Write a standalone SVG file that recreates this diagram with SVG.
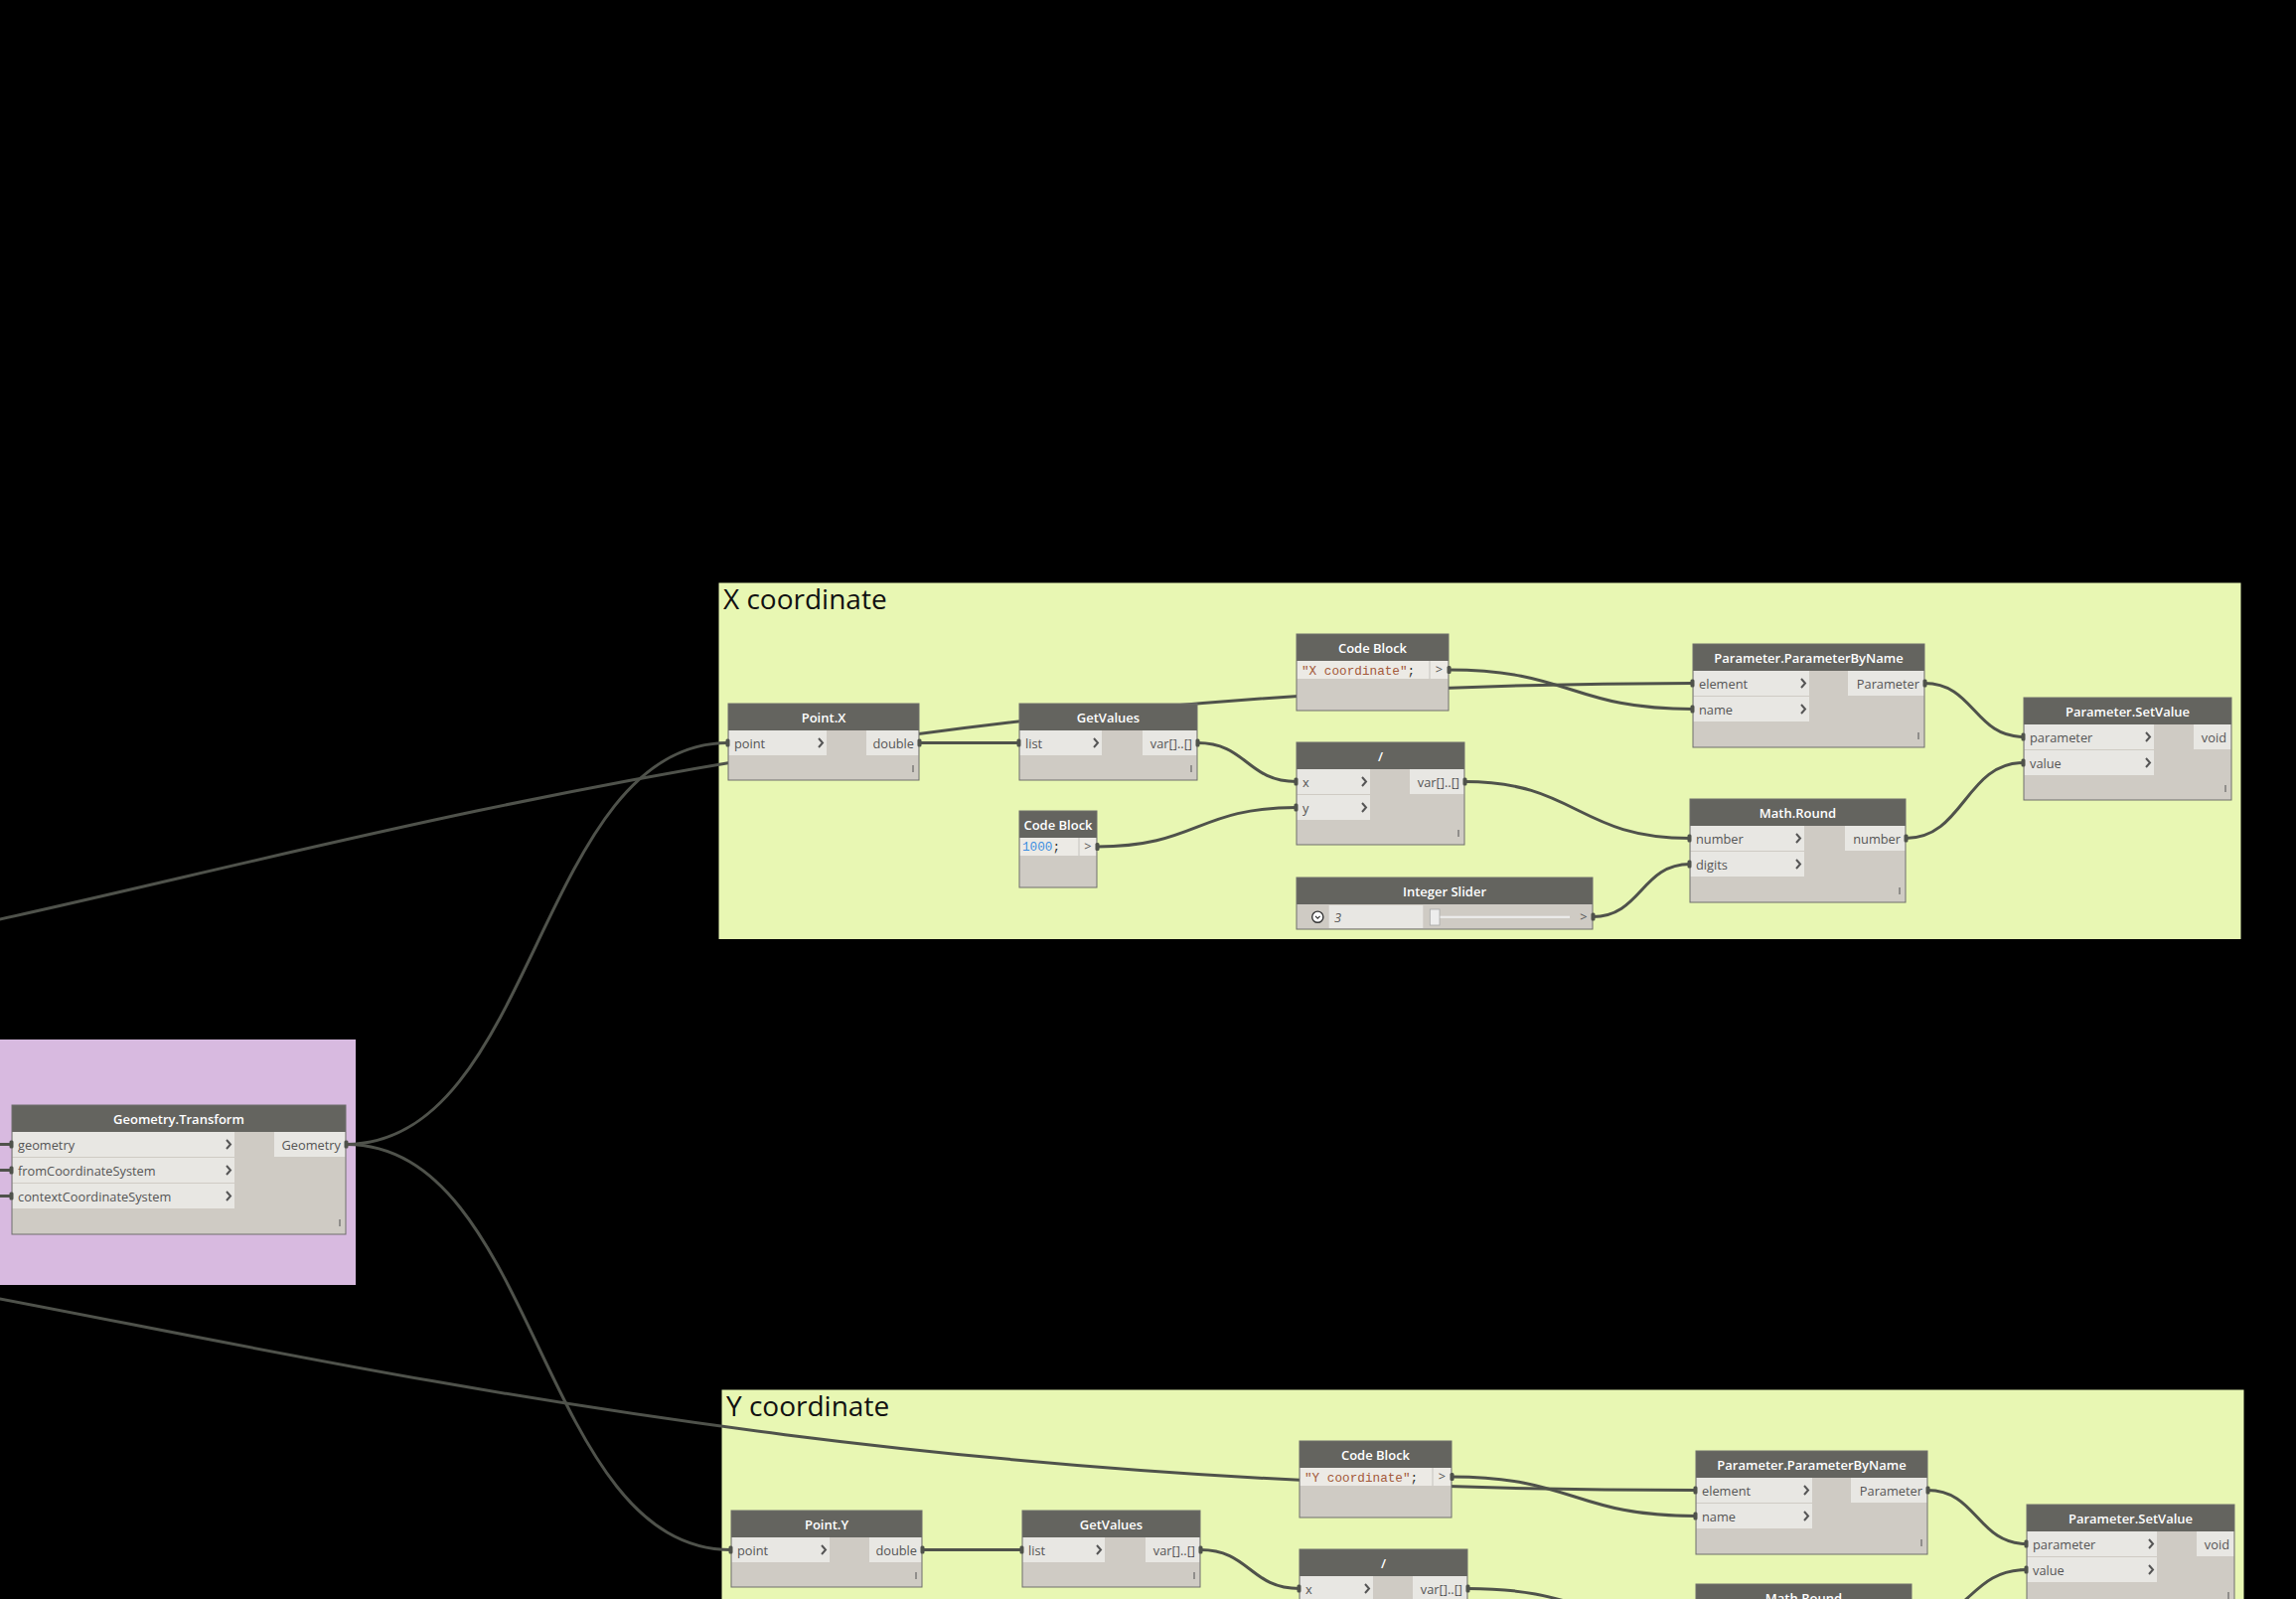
<svg xmlns="http://www.w3.org/2000/svg" width="2311" height="1609" viewBox="0 0 2311 1609">
<style>
.bg{fill:#000}
.gy{fill:#e8f7b3}
.gp{fill:#d8bae0}
.gt{font-family:'Open Sans','Liberation Sans',sans-serif;font-size:28px;fill:#111}
.bd{fill:#cfcbc4}
.hd{fill:#64645f}
.ol{fill:none;stroke:#6e6e6c;stroke-width:1}
.pb{fill:#e8e7e3}
.ht{font-family:'Open Sans','Liberation Sans',sans-serif;font-size:13px;font-weight:600;fill:#fff;text-anchor:middle}
.pt{font-family:'Open Sans','Liberation Sans',sans-serif;font-size:12.8px;fill:#555}
.po{text-anchor:end}
.ch{fill:none;stroke:#555;stroke-width:2}
.tk{stroke:#666;stroke-width:1.2}
.mk{fill:#4f524b}
.wire{fill:none;stroke:#4f524b;stroke-width:3}
.cd{font-family:'Liberation Mono','DejaVu Sans Mono',monospace;font-size:12.7px}
.str{fill:#a3593a}
.num{fill:#3d8fe0}
.pun{fill:#333}
.cr{fill:#eceae5}
.sep{stroke:#c4c2bd;stroke-width:1}
</style>
<rect class="bg" x="0" y="0" width="2311" height="1609"/>

<g id="groups">
  <g id="group-transform"><rect class="gp" x="-1" y="1046" width="359" height="247"/></g>
  <g id="group-x"><rect class="gy" x="723.5" y="586.5" width="1532" height="358.5"/><text class="gt" x="728" y="613">X coordinate</text></g>
  <g id="group-y"><rect class="gy" x="726.5" y="1398.5" width="1532" height="215"/><text class="gt" x="731" y="1425">Y coordinate</text></g>
</g>

<g id="connectors">
  <path class="wire" d="M-6,1151.5 L12,1151.5"/>
  <path class="wire" d="M-6,1177.5 L12,1177.5"/>
  <path class="wire" d="M-6,1203.5 L12,1203.5"/>
  <path class="wire" d="M348,1151.5 C540,1151.5 541,747.5 733,747.5"/>
  <path class="wire" d="M348,1151.5 C542,1151.5 542,1559.5 736,1559.5"/>
  <path class="wire" d="M-2,925.4 C400,837 900,687.5 1704,687.5"/>
  <path class="wire" d="M-2,1306.6 C400,1383 900,1499.5 1707,1499.5"/>
  <path class="wire" d="M925,747.5 L1026,747.5"/>
  <path class="wire" d="M1205,747.5 C1255,747.5 1255,786.5 1305,786.5"/>
  <path class="wire" d="M1104,852 C1205,852 1205,812.5 1305,812.5"/>
  <path class="wire" d="M1458,674 C1581,674 1581,713.5 1704,713.5"/>
  <path class="wire" d="M1937,687.5 C1987,687.5 1987,741.5 2037,741.5"/>
  <path class="wire" d="M1474,786.5 C1587,786.5 1588,843.5 1701,843.5"/>
  <path class="wire" d="M1603,922.5 C1652,922.5 1652,869.5 1701,869.5"/>
  <path class="wire" d="M1918,843.5 C1977,843.5 1978,767.5 2037,767.5"/>
  <path class="wire" d="M928,1559.5 L1029,1559.5"/>
  <path class="wire" d="M1208,1559.5 C1258,1559.5 1258,1598.5 1308,1598.5"/>
  <path class="wire" d="M1461,1486 C1584,1486 1584,1525.5 1707,1525.5"/>
  <path class="wire" d="M1940,1499.5 C1990,1499.5 1990,1553.5 2040,1553.5"/>
  <path class="wire" d="M1477,1598.5 C1592,1598.5 1592,1633.5 1707,1633.5"/>
  <path class="wire" d="M1924,1633.5 C1982,1633.5 1982,1579.5 2040,1579.5"/>
</g>

<g id="geometry-transform" transform="translate(12,1112)">
  <rect class="bd" width="336" height="130"/>
  <rect class="hd" width="336" height="27"/>
  <text class="ht" x="168" y="19">Geometry.Transform</text>
  <rect class="pb" x="0.5" y="27" width="223.5" height="25"/>
  <rect class="pb" x="0.5" y="53" width="223.5" height="25"/>
  <rect class="pb" x="0.5" y="79" width="223.5" height="25"/>
  <text class="pt" x="6" y="44.5">geometry</text>
  <text class="pt" x="6" y="70.5">fromCoordinateSystem</text>
  <text class="pt" x="6" y="96.5">contextCoordinateSystem</text>
  <path class="ch" d="M216,35 L220,39.5 L216,44 M216,61 L220,65.5 L216,70 M216,87 L220,91.5 L216,96"/>
  <rect class="pb" x="264" y="27" width="71.5" height="25"/>
  <text class="pt po" x="331" y="44.5">Geometry</text>
  <path class="tk" d="M330,115 V122"/>
  <rect class="ol" width="336" height="130"/>
  <rect class="mk" x="-2.5" y="35.5" width="4" height="8" rx="1.5"/>
  <rect class="mk" x="-2.5" y="61.5" width="4" height="8" rx="1.5"/>
  <rect class="mk" x="-2.5" y="87.5" width="4" height="8" rx="1.5"/>
  <rect class="mk" x="334.5" y="35.5" width="4" height="8" rx="1.5"/>
</g>

<g id="point-x" transform="translate(733,708)">
  <rect class="bd" width="192" height="77"/>
  <rect class="hd" width="192" height="27"/>
  <text class="ht" x="96" y="19">Point.X</text>
  <rect class="pb" x="0.5" y="27" width="98.5" height="25"/>
  <text class="pt" x="6" y="44.5">point</text>
  <path class="ch" d="M91,35 L95,39.5 L91,44"/>
  <rect class="pb" x="139" y="27" width="52.5" height="25"/>
  <text class="pt po" x="187" y="44.5">double</text>
  <path class="tk" d="M186,62 V69"/>
  <rect class="ol" width="192" height="77"/>
  <rect class="mk" x="-2.5" y="35.5" width="4" height="8" rx="1.5"/>
  <rect class="mk" x="190.5" y="35.5" width="4" height="8" rx="1.5"/>
</g>

<g id="getvalues-x" transform="translate(1026,708)">
  <rect class="bd" width="179" height="77"/>
  <rect class="hd" width="179" height="27"/>
  <text class="ht" x="89.5" y="19">GetValues</text>
  <rect class="pb" x="0.5" y="27" width="82.5" height="25"/>
  <text class="pt" x="6" y="44.5">list</text>
  <path class="ch" d="M75,35 L79,39.5 L75,44"/>
  <rect class="pb" x="124" y="27" width="54.5" height="25"/>
  <text class="pt po" x="174" y="44.5">var[]..[]</text>
  <path class="tk" d="M173,62 V69"/>
  <rect class="ol" width="179" height="77"/>
  <rect class="mk" x="-2.5" y="35.5" width="4" height="8" rx="1.5"/>
  <rect class="mk" x="177.5" y="35.5" width="4" height="8" rx="1.5"/>
</g>

<g id="codeblock-x-name" transform="translate(1305,638)">
  <rect class="bd" width="153" height="77"/>
  <rect class="hd" width="153" height="27"/>
  <text class="ht" x="76.5" y="19">Code Block</text>
  <rect class="cr" x="0.5" y="27" width="152" height="18"/>
  <path class="sep" d="M134,27 V45"/>
  <text class="cd" x="5" y="40.5"><tspan class="str">"X coordinate"</tspan><tspan class="pun">;</tspan></text>
  <text class="pt" x="143.5" y="40" text-anchor="middle">&gt;</text>
  <rect class="ol" width="153" height="77"/>
  <rect class="mk" x="151.5" y="32" width="4" height="8" rx="1.5"/>
</g>

<g id="divide-x" transform="translate(1305,747)">
  <rect class="bd" width="169" height="103"/>
  <rect class="hd" width="169" height="27"/>
  <text class="ht" x="84.5" y="19">/</text>
  <rect class="pb" x="0.5" y="27" width="73.5" height="25"/>
  <rect class="pb" x="0.5" y="53" width="73.5" height="25"/>
  <text class="pt" x="6" y="44.5">x</text>
  <text class="pt" x="6" y="70.5">y</text>
  <path class="ch" d="M66,35 L70,39.5 L66,44 M66,61 L70,65.5 L66,70"/>
  <rect class="pb" x="114" y="27" width="54.5" height="25"/>
  <text class="pt po" x="164" y="44.5">var[]..[]</text>
  <path class="tk" d="M163,88 V95"/>
  <rect class="ol" width="169" height="103"/>
  <rect class="mk" x="-2.5" y="35.5" width="4" height="8" rx="1.5"/>
  <rect class="mk" x="-2.5" y="61.5" width="4" height="8" rx="1.5"/>
  <rect class="mk" x="167.5" y="35.5" width="4" height="8" rx="1.5"/>
</g>

<g id="codeblock-x-1000" transform="translate(1026,816)">
  <rect class="bd" width="78" height="77"/>
  <rect class="hd" width="78" height="27"/>
  <text class="ht" x="39" y="19">Code Block</text>
  <rect class="cr" x="0.5" y="27" width="77" height="18"/>
  <path class="sep" d="M60,27 V45"/>
  <text class="cd" x="3" y="40"><tspan class="num">1000</tspan><tspan class="pun">;</tspan></text>
  <text class="pt" x="69" y="40" text-anchor="middle">&gt;</text>
  <rect class="ol" width="78" height="77"/>
  <rect class="mk" x="76.5" y="32" width="4" height="8" rx="1.5"/>
</g>

<g id="integer-slider-x" transform="translate(1305,883)">
  <rect class="bd" width="298" height="52"/>
  <rect class="hd" width="298" height="27"/>
  <text class="ht" x="149" y="19">Integer Slider</text>
  <circle cx="21.3" cy="39.7" r="5.6" fill="#fff" stroke="#333" stroke-width="1.4"/>
  <path d="M19,38.8 L21.3,41.2 L23.6,38.8" fill="none" stroke="#333" stroke-width="1.2"/>
  <rect class="pb" x="32.7" y="28" width="94.6" height="23"/>
  <text class="pt" x="38" y="44.5" font-style="italic" fill="#333">3</text>
  <rect x="141.7" y="38.7" width="133.3" height="2.2" fill="#ececec"/>
  <rect x="134.3" y="32" width="9.7" height="16" fill="#ededed" stroke="#a8a8a8" stroke-width="0.8"/>
  <text class="pt" x="289" y="44" text-anchor="middle">&gt;</text>
  <rect class="ol" width="298" height="52"/>
  <rect class="mk" x="296.5" y="35.5" width="4" height="8" rx="1.5"/>
</g>

<g id="parameterbyname-x" transform="translate(1704,648)">
  <rect class="bd" width="233" height="104"/>
  <rect class="hd" width="233" height="27"/>
  <text class="ht" x="116.5" y="19">Parameter.ParameterByName</text>
  <rect class="pb" x="0.5" y="27" width="116.5" height="25"/>
  <rect class="pb" x="0.5" y="53" width="116.5" height="25"/>
  <text class="pt" x="6" y="44.5">element</text>
  <text class="pt" x="6" y="70.5">name</text>
  <path class="ch" d="M109,35 L113,39.5 L109,44 M109,61 L113,65.5 L109,70"/>
  <rect class="pb" x="156" y="27" width="76.5" height="25"/>
  <text class="pt po" x="228" y="44.5">Parameter</text>
  <path class="tk" d="M227,89 V96"/>
  <rect class="ol" width="233" height="104"/>
  <rect class="mk" x="-2.5" y="35.5" width="4" height="8" rx="1.5"/>
  <rect class="mk" x="-2.5" y="61.5" width="4" height="8" rx="1.5"/>
  <rect class="mk" x="231.5" y="35.5" width="4" height="8" rx="1.5"/>
</g>

<g id="math-round-x" transform="translate(1701,804)">
  <rect class="bd" width="217" height="104"/>
  <rect class="hd" width="217" height="27"/>
  <text class="ht" x="108.5" y="19">Math.Round</text>
  <rect class="pb" x="0.5" y="27" width="114.5" height="25"/>
  <rect class="pb" x="0.5" y="53" width="114.5" height="25"/>
  <text class="pt" x="6" y="44.5">number</text>
  <text class="pt" x="6" y="70.5">digits</text>
  <path class="ch" d="M107,35 L111,39.5 L107,44 M107,61 L111,65.5 L107,70"/>
  <rect class="pb" x="156" y="27" width="60.5" height="25"/>
  <text class="pt po" x="212" y="44.5">number</text>
  <path class="tk" d="M211,89 V96"/>
  <rect class="ol" width="217" height="104"/>
  <rect class="mk" x="-2.5" y="35.5" width="4" height="8" rx="1.5"/>
  <rect class="mk" x="-2.5" y="61.5" width="4" height="8" rx="1.5"/>
  <rect class="mk" x="215.5" y="35.5" width="4" height="8" rx="1.5"/>
</g>

<g id="setvalue-x" transform="translate(2037,702)">
  <rect class="bd" width="209" height="103"/>
  <rect class="hd" width="209" height="27"/>
  <text class="ht" x="104.5" y="19">Parameter.SetValue</text>
  <rect class="pb" x="0.5" y="27" width="130.5" height="25"/>
  <rect class="pb" x="0.5" y="53" width="130.5" height="25"/>
  <text class="pt" x="6" y="44.5">parameter</text>
  <text class="pt" x="6" y="70.5">value</text>
  <path class="ch" d="M123,35 L127,39.5 L123,44 M123,61 L127,65.5 L123,70"/>
  <rect class="pb" x="171" y="27" width="37.5" height="25"/>
  <text class="pt po" x="204" y="44.5">void</text>
  <path class="tk" d="M203,88 V95"/>
  <rect class="ol" width="209" height="103"/>
  <rect class="mk" x="-2.5" y="35.5" width="4" height="8" rx="1.5"/>
  <rect class="mk" x="-2.5" y="61.5" width="4" height="8" rx="1.5"/>
</g>

<g id="point-y" transform="translate(736,1520)">
  <rect class="bd" width="192" height="77"/>
  <rect class="hd" width="192" height="27"/>
  <text class="ht" x="96" y="19">Point.Y</text>
  <rect class="pb" x="0.5" y="27" width="98.5" height="25"/>
  <text class="pt" x="6" y="44.5">point</text>
  <path class="ch" d="M91,35 L95,39.5 L91,44"/>
  <rect class="pb" x="139" y="27" width="52.5" height="25"/>
  <text class="pt po" x="187" y="44.5">double</text>
  <path class="tk" d="M186,62 V69"/>
  <rect class="ol" width="192" height="77"/>
  <rect class="mk" x="-2.5" y="35.5" width="4" height="8" rx="1.5"/>
  <rect class="mk" x="190.5" y="35.5" width="4" height="8" rx="1.5"/>
</g>

<g id="getvalues-y" transform="translate(1029,1520)">
  <rect class="bd" width="179" height="77"/>
  <rect class="hd" width="179" height="27"/>
  <text class="ht" x="89.5" y="19">GetValues</text>
  <rect class="pb" x="0.5" y="27" width="82.5" height="25"/>
  <text class="pt" x="6" y="44.5">list</text>
  <path class="ch" d="M75,35 L79,39.5 L75,44"/>
  <rect class="pb" x="124" y="27" width="54.5" height="25"/>
  <text class="pt po" x="174" y="44.5">var[]..[]</text>
  <path class="tk" d="M173,62 V69"/>
  <rect class="ol" width="179" height="77"/>
  <rect class="mk" x="-2.5" y="35.5" width="4" height="8" rx="1.5"/>
  <rect class="mk" x="177.5" y="35.5" width="4" height="8" rx="1.5"/>
</g>

<g id="codeblock-y-name" transform="translate(1308,1450)">
  <rect class="bd" width="153" height="77"/>
  <rect class="hd" width="153" height="27"/>
  <text class="ht" x="76.5" y="19">Code Block</text>
  <rect class="cr" x="0.5" y="27" width="152" height="18"/>
  <path class="sep" d="M134,27 V45"/>
  <text class="cd" x="5" y="40.5"><tspan class="str">"Y coordinate"</tspan><tspan class="pun">;</tspan></text>
  <text class="pt" x="143.5" y="40" text-anchor="middle">&gt;</text>
  <rect class="ol" width="153" height="77"/>
  <rect class="mk" x="151.5" y="32" width="4" height="8" rx="1.5"/>
</g>

<g id="divide-y" transform="translate(1308,1559)">
  <rect class="bd" width="169" height="103"/>
  <rect class="hd" width="169" height="27"/>
  <text class="ht" x="84.5" y="19">/</text>
  <rect class="pb" x="0.5" y="27" width="73.5" height="25"/>
  <rect class="pb" x="0.5" y="53" width="73.5" height="25"/>
  <text class="pt" x="6" y="44.5">x</text>
  <text class="pt" x="6" y="70.5">y</text>
  <path class="ch" d="M66,35 L70,39.5 L66,44 M66,61 L70,65.5 L66,70"/>
  <rect class="pb" x="114" y="27" width="54.5" height="25"/>
  <text class="pt po" x="164" y="44.5">var[]..[]</text>
  <rect class="ol" width="169" height="103"/>
  <rect class="mk" x="-2.5" y="35.5" width="4" height="8" rx="1.5"/>
  <rect class="mk" x="167.5" y="35.5" width="4" height="8" rx="1.5"/>
</g>

<g id="parameterbyname-y" transform="translate(1707,1460)">
  <rect class="bd" width="233" height="104"/>
  <rect class="hd" width="233" height="27"/>
  <text class="ht" x="116.5" y="19">Parameter.ParameterByName</text>
  <rect class="pb" x="0.5" y="27" width="116.5" height="25"/>
  <rect class="pb" x="0.5" y="53" width="116.5" height="25"/>
  <text class="pt" x="6" y="44.5">element</text>
  <text class="pt" x="6" y="70.5">name</text>
  <path class="ch" d="M109,35 L113,39.5 L109,44 M109,61 L113,65.5 L109,70"/>
  <rect class="pb" x="156" y="27" width="76.5" height="25"/>
  <text class="pt po" x="228" y="44.5">Parameter</text>
  <path class="tk" d="M227,89 V96"/>
  <rect class="ol" width="233" height="104"/>
  <rect class="mk" x="-2.5" y="35.5" width="4" height="8" rx="1.5"/>
  <rect class="mk" x="-2.5" y="61.5" width="4" height="8" rx="1.5"/>
  <rect class="mk" x="231.5" y="35.5" width="4" height="8" rx="1.5"/>
</g>

<g id="math-round-y" transform="translate(1707,1594)">
  <rect class="bd" width="217" height="104"/>
  <rect class="hd" width="217" height="27"/>
  <text class="ht" x="108.5" y="19">Math.Round</text>
  <rect class="ol" width="217" height="104"/>
</g>

<g id="setvalue-y" transform="translate(2040,1514)">
  <rect class="bd" width="209" height="103"/>
  <rect class="hd" width="209" height="27"/>
  <text class="ht" x="104.5" y="19">Parameter.SetValue</text>
  <rect class="pb" x="0.5" y="27" width="130.5" height="25"/>
  <rect class="pb" x="0.5" y="53" width="130.5" height="25"/>
  <text class="pt" x="6" y="44.5">parameter</text>
  <text class="pt" x="6" y="70.5">value</text>
  <path class="ch" d="M123,35 L127,39.5 L123,44 M123,61 L127,65.5 L123,70"/>
  <rect class="pb" x="171" y="27" width="37.5" height="25"/>
  <text class="pt po" x="204" y="44.5">void</text>
  <path class="tk" d="M203,88 V95"/>
  <rect class="ol" width="209" height="103"/>
  <rect class="mk" x="-2.5" y="35.5" width="4" height="8" rx="1.5"/>
  <rect class="mk" x="-2.5" y="61.5" width="4" height="8" rx="1.5"/>
</g>
</svg>
